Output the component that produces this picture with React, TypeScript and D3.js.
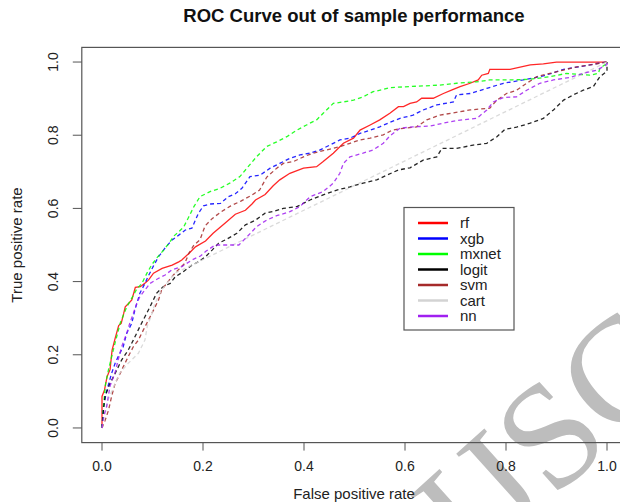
import React from "react";
import * as d3 from "d3";

type Pt = [number, number];

// ROC points: [false positive rate, true positive rate]
const rf: Pt[] = [
  [0, 0], [0, 0.086], [0.005, 0.104], [0.01, 0.14], [0.016, 0.16], [0.02, 0.213], [0.026, 0.245],
  [0.033, 0.28], [0.038, 0.286], [0.043, 0.313], [0.046, 0.331], [0.053, 0.341], [0.059, 0.35],
  [0.066, 0.384], [0.076, 0.386], [0.086, 0.397], [0.092, 0.404], [0.102, 0.423], [0.119, 0.436],
  [0.139, 0.445], [0.152, 0.454], [0.158, 0.459], [0.172, 0.477], [0.185, 0.495], [0.205, 0.511],
  [0.22, 0.532], [0.244, 0.56], [0.264, 0.584], [0.284, 0.595], [0.297, 0.612], [0.304, 0.623],
  [0.323, 0.638], [0.339, 0.662], [0.352, 0.678], [0.372, 0.696], [0.399, 0.71], [0.425, 0.714],
  [0.438, 0.728], [0.458, 0.751], [0.478, 0.778], [0.498, 0.792], [0.511, 0.814], [0.531, 0.828],
  [0.55, 0.842], [0.57, 0.86], [0.587, 0.878], [0.597, 0.878], [0.61, 0.887], [0.623, 0.891],
  [0.633, 0.901], [0.656, 0.901], [0.676, 0.914], [0.692, 0.923], [0.709, 0.933], [0.729, 0.942],
  [0.745, 0.951], [0.752, 0.964], [0.765, 0.969], [0.768, 0.98], [0.808, 0.98], [0.848, 0.992],
  [0.874, 0.995], [0.9, 1], [1, 1],
];

const xgb: Pt[] = [
  [0, 0], [0.003, 0.058], [0.009, 0.1], [0.019, 0.149], [0.026, 0.177], [0.032, 0.195],
  [0.042, 0.222], [0.049, 0.259], [0.059, 0.286], [0.065, 0.322], [0.075, 0.368], [0.085, 0.395],
  [0.092, 0.416], [0.102, 0.443], [0.112, 0.468], [0.125, 0.492], [0.139, 0.514], [0.152, 0.527],
  [0.165, 0.541], [0.178, 0.546], [0.191, 0.587], [0.201, 0.607], [0.215, 0.612], [0.235, 0.614],
  [0.25, 0.632], [0.264, 0.64], [0.277, 0.655], [0.293, 0.687], [0.313, 0.691], [0.333, 0.71],
  [0.352, 0.723], [0.372, 0.737], [0.392, 0.746], [0.412, 0.751], [0.432, 0.76], [0.451, 0.773],
  [0.471, 0.787], [0.491, 0.792], [0.511, 0.805], [0.531, 0.814], [0.55, 0.823], [0.57, 0.835],
  [0.59, 0.846], [0.616, 0.855], [0.636, 0.869], [0.663, 0.883], [0.696, 0.891], [0.702, 0.91],
  [0.729, 0.914], [0.762, 0.928], [0.795, 0.942], [0.834, 0.951], [0.874, 0.962], [0.914, 0.98],
  [0.953, 0.989], [0.98, 0.996], [1, 1],
];

const mxnet: Pt[] = [
  [0, 0], [0.003, 0.06], [0.007, 0.12], [0.013, 0.16], [0.02, 0.2], [0.026, 0.233], [0.036, 0.286],
  [0.049, 0.331], [0.059, 0.355], [0.069, 0.38], [0.079, 0.395], [0.089, 0.423], [0.098, 0.445],
  [0.108, 0.464], [0.122, 0.486], [0.135, 0.509], [0.141, 0.523], [0.152, 0.536], [0.162, 0.55],
  [0.172, 0.577], [0.182, 0.605], [0.194, 0.632], [0.214, 0.646], [0.234, 0.655], [0.253, 0.669],
  [0.273, 0.687], [0.287, 0.71], [0.306, 0.741], [0.326, 0.769], [0.346, 0.782], [0.366, 0.796],
  [0.386, 0.814], [0.405, 0.828], [0.425, 0.842], [0.438, 0.86], [0.458, 0.887], [0.478, 0.891],
  [0.498, 0.896], [0.517, 0.905], [0.537, 0.919], [0.557, 0.925], [0.57, 0.93], [0.61, 0.933],
  [0.669, 0.937], [0.702, 0.942], [0.742, 0.946], [0.768, 0.951], [0.808, 0.951], [0.848, 0.953],
  [0.887, 0.96], [0.92, 0.969], [0.947, 0.966], [0.966, 0.964], [0.983, 0.969], [0.986, 0.983],
  [1, 0.996], [1, 1],
];

const logit: Pt[] = [
  [0, 0], [0.003, 0.05], [0.006, 0.086], [0.016, 0.122], [0.026, 0.149], [0.039, 0.186],
  [0.052, 0.213], [0.062, 0.24], [0.075, 0.277], [0.085, 0.304], [0.095, 0.331], [0.108, 0.368],
  [0.121, 0.386], [0.135, 0.395], [0.145, 0.413], [0.161, 0.427], [0.178, 0.445], [0.191, 0.454],
  [0.205, 0.468], [0.218, 0.486], [0.231, 0.505], [0.247, 0.516], [0.267, 0.532], [0.284, 0.555],
  [0.304, 0.568], [0.323, 0.587], [0.34, 0.592], [0.359, 0.6], [0.386, 0.605], [0.412, 0.623],
  [0.438, 0.637], [0.465, 0.65], [0.491, 0.659], [0.517, 0.669], [0.544, 0.678], [0.564, 0.691],
  [0.587, 0.705], [0.61, 0.711], [0.636, 0.732], [0.663, 0.741], [0.673, 0.764], [0.702, 0.764],
  [0.735, 0.773], [0.762, 0.778], [0.782, 0.796], [0.798, 0.816], [0.821, 0.822], [0.848, 0.833],
  [0.874, 0.846], [0.894, 0.869], [0.914, 0.896], [0.933, 0.91], [0.953, 0.923], [0.973, 0.933],
  [0.986, 0.96], [1, 0.975], [1, 1],
];

const svm: Pt[] = [
  [0, 0], [0.006, 0.02], [0.013, 0.049], [0.019, 0.086], [0.026, 0.122], [0.036, 0.149],
  [0.042, 0.167], [0.052, 0.195], [0.062, 0.222], [0.072, 0.24], [0.082, 0.268], [0.092, 0.295],
  [0.102, 0.322], [0.112, 0.35], [0.118, 0.377], [0.128, 0.395], [0.138, 0.413], [0.151, 0.432],
  [0.164, 0.45], [0.172, 0.477], [0.182, 0.5], [0.194, 0.514], [0.204, 0.552], [0.218, 0.572],
  [0.235, 0.59], [0.255, 0.607], [0.275, 0.62], [0.295, 0.635], [0.312, 0.65], [0.326, 0.685],
  [0.346, 0.71], [0.359, 0.723], [0.379, 0.728], [0.399, 0.741], [0.418, 0.751], [0.445, 0.76],
  [0.471, 0.769], [0.491, 0.778], [0.511, 0.787], [0.531, 0.792], [0.557, 0.801], [0.575, 0.814],
  [0.597, 0.819], [0.623, 0.823], [0.643, 0.842], [0.669, 0.855], [0.696, 0.861], [0.729, 0.869],
  [0.768, 0.874], [0.782, 0.896], [0.801, 0.914], [0.821, 0.923], [0.841, 0.942], [0.861, 0.96],
  [0.887, 0.969], [0.914, 0.978], [0.94, 0.987], [0.966, 0.992], [1, 1],
];

const cart: Pt[] = [
  [0, 0], [0.013, 0.08], [0.035, 0.15], [0.052, 0.177], [0.072, 0.204], [0.085, 0.24],
  [0.09, 0.28], [0.097, 0.304], [0.105, 0.341], [0.118, 0.377], [0.131, 0.4], [0.145, 0.423],
  [1, 1],
];

const nn: Pt[] = [
  [0, 0], [0.003, 0.031], [0.009, 0.058], [0.016, 0.115], [0.026, 0.152], [0.032, 0.186],
  [0.039, 0.222], [0.049, 0.259], [0.055, 0.286], [0.062, 0.313], [0.069, 0.341], [0.075, 0.359],
  [0.085, 0.377], [0.095, 0.395], [0.112, 0.409], [0.125, 0.418], [0.138, 0.432], [0.158, 0.441],
  [0.178, 0.459], [0.195, 0.47], [0.205, 0.482], [0.224, 0.5], [0.244, 0.5], [0.271, 0.5],
  [0.284, 0.518], [0.296, 0.535], [0.306, 0.55], [0.326, 0.568], [0.346, 0.58], [0.372, 0.591],
  [0.392, 0.605], [0.412, 0.632], [0.438, 0.646], [0.458, 0.669], [0.471, 0.696], [0.478, 0.723],
  [0.491, 0.741], [0.517, 0.751], [0.537, 0.76], [0.557, 0.778], [0.57, 0.798], [0.59, 0.819],
  [0.616, 0.823], [0.65, 0.825], [0.676, 0.833], [0.702, 0.84], [0.742, 0.846], [0.762, 0.869],
  [0.775, 0.891], [0.795, 0.903], [0.821, 0.905], [0.841, 0.923], [0.867, 0.942], [0.894, 0.951],
  [0.927, 0.958], [0.953, 0.969], [0.98, 0.978], [1, 0.993], [1, 1],
];

const modelNames = ["rf", "xgb", "mxnet", "logit", "svm", "cart", "nn"];
const modelData = [rf, xgb, mxnet, logit, svm, cart, nn];
const modelColors = ["#ff0000", "#0000ff", "#00ff00", "#000000", "#a52a2a", "#d3d3d3", "#a020f0"];

const ticks = [0, 0.2, 0.4, 0.6, 0.8, 1.0];

const W = 620;
const H = 502;
const font = "'Liberation Sans', Arial, sans-serif";

export default function App() {
  const x = d3.scaleLinear().domain([-0.04, 1.04]).range([81.8, 627.2]);
  const y = d3.scaleLinear().domain([-0.04, 1.04]).range([442.6, 47.4]);
  const line = d3
    .line<Pt>()
    .x((d) => x(d[0]))
    .y((d) => y(d[1]));

  const [x0, x1] = x.range();
  const [y0, y1] = y.range();
  const axisColor = "#555";

  return (
    <svg
      width={W}
      height={H}
      style={{ position: "absolute", left: 0, top: 0, background: "#fff" }}
      fontFamily={font}
    >
      <rect width={W} height={H} fill="#fff" />
      <text x={354} y={22} textAnchor="middle" fontSize={18.5} fontWeight="bold" fill="#111">
        ROC Curve out of sample performance
      </text>

      {modelData.map((pts, i) => (
        <path
          key={modelNames[i]}
          d={line(pts) ?? ""}
          fill="none"
          stroke={modelColors[i]}
          strokeWidth={1.3}
          strokeOpacity={0.85}
          strokeDasharray={i === 0 ? undefined : "4,3"}
        />
      ))}

      {/* watermark */}
      <text
        transform="translate(472,572) rotate(-42)"
        fontFamily="'Liberation Serif', 'DejaVu Serif', serif"
        fontSize={150}
        fill="#bdbdbd"
      >
        IJSC
      </text>

      {/* plot frame */}
      <rect x={x0} y={y1} width={x1 - x0} height={y0 - y1} fill="none" stroke={axisColor} strokeWidth={1.2} />

      {/* x axis */}
      {ticks.map((t) => (
        <g key={"x" + t}>
          <line x1={x(t)} x2={x(t)} y1={y0} y2={y0 + 8} stroke={axisColor} />
          <text x={x(t)} y={y0 + 28} textAnchor="middle" fontSize={14} fill="#222">
            {t.toFixed(1)}
          </text>
        </g>
      ))}
      <text x={354} y={499} textAnchor="middle" fontSize={15} fill="#222">
        False positive rate
      </text>

      {/* y axis */}
      {ticks.map((t) => (
        <g key={"y" + t}>
          <line x1={x0 - 9} x2={x0} y1={y(t)} y2={y(t)} stroke={axisColor} />
          <text
            transform={`translate(${58},${y(t)}) rotate(-90)`}
            textAnchor="middle"
            fontSize={14}
            fill="#222"
          >
            {t.toFixed(1)}
          </text>
        </g>
      ))}
      <text transform={`translate(22,${(y0 + y1) / 2}) rotate(-90)`} textAnchor="middle" fontSize={15} fill="#222">
        True positive rate
      </text>

      {/* legend */}
      <rect x={404} y={207.5} width={110} height={122.5} fill="#fff" stroke={axisColor} strokeWidth={1.2} />
      {modelNames.map((name, i) => (
        <g key={"lg" + name} transform={`translate(0,${223 + i * 15.5})`}>
          <line x1={418} x2={448} y1={0} y2={0} stroke={modelColors[i]} strokeWidth={2.5} />
          <text x={460} y={5} fontSize={15} fill="#222">
            {name}
          </text>
        </g>
      ))}
    </svg>
  );
}
